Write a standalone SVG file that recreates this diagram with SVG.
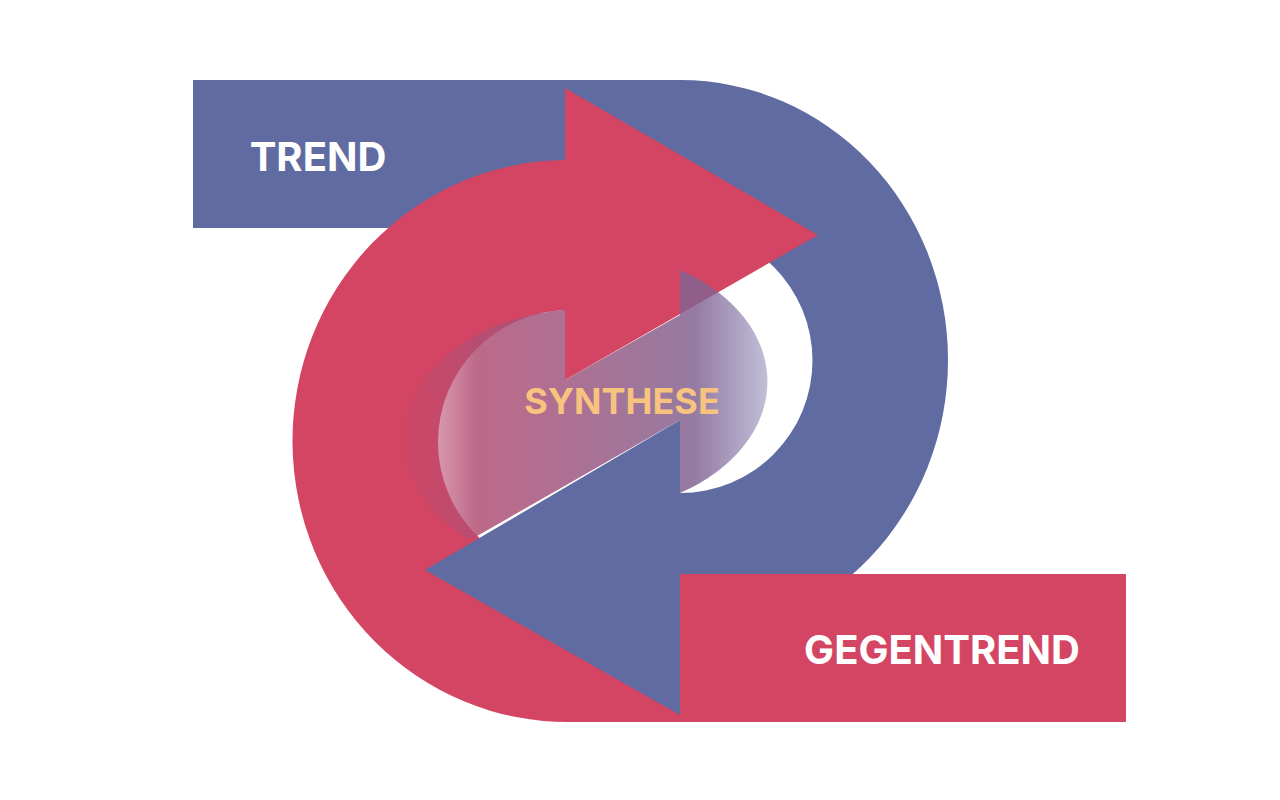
<svg xmlns="http://www.w3.org/2000/svg" width="1280" height="800" viewBox="0 0 1280 800">
<style>
.blue{fill:#5f6ba1}.red{fill:#d34563}
.lbl{font-family:Inter,"Liberation Sans",sans-serif;font-weight:700;text-anchor:middle}
</style>
<defs>
<linearGradient id="g" x1="0" x2="1" y1="0" y2="0">
<stop offset="0" stop-color="#c04a6d" stop-opacity="0.4"/>
<stop offset="0.2" stop-color="#b24f74"/>
<stop offset="0.8" stop-color="#836391"/>
<stop offset="1" stop-color="#6f67a0" stop-opacity="0.5"/>
</linearGradient>
</defs>
<rect width="1280" height="800" fill="#fff"/>
<g id="trend">
<path class="blue" d="M193,80 L680,80 A268 280 0 0 1 680,640 L680,493 A132 132 0 0 0 680,228 L193,228 Z"/>
</g>
<g id="gegentrend">
<path class="red" d="M1126,574 L570,574 A131 131 0 0 1 570,310 L565,310 L565,380 L818,235 L565,88 L565,160 A275 281 0 0 0 570,722 L1126,722 Z"/>
<path class="blue" d="M680,640 L680,715 L425,570 L680,420 L680,493 Z"/>
</g>
<g id="synthese">
<path d="M565,310 L565,380 L680,315 L680,270 A180 130 0 0 1 680,493 L680,420 L470,540 A180 130 0 0 1 565,310 Z" fill="url(#g)" opacity="0.85"/>
</g>
<text class="lbl" x="318" y="171" font-size="40" fill="#fff">TREND</text>
<text class="lbl" x="942" y="664" font-size="40" fill="#fff">GEGENTREND</text>
<text class="lbl" x="622" y="414" font-size="36" fill="#f7c37f">SYNTHESE</text>
</svg>
